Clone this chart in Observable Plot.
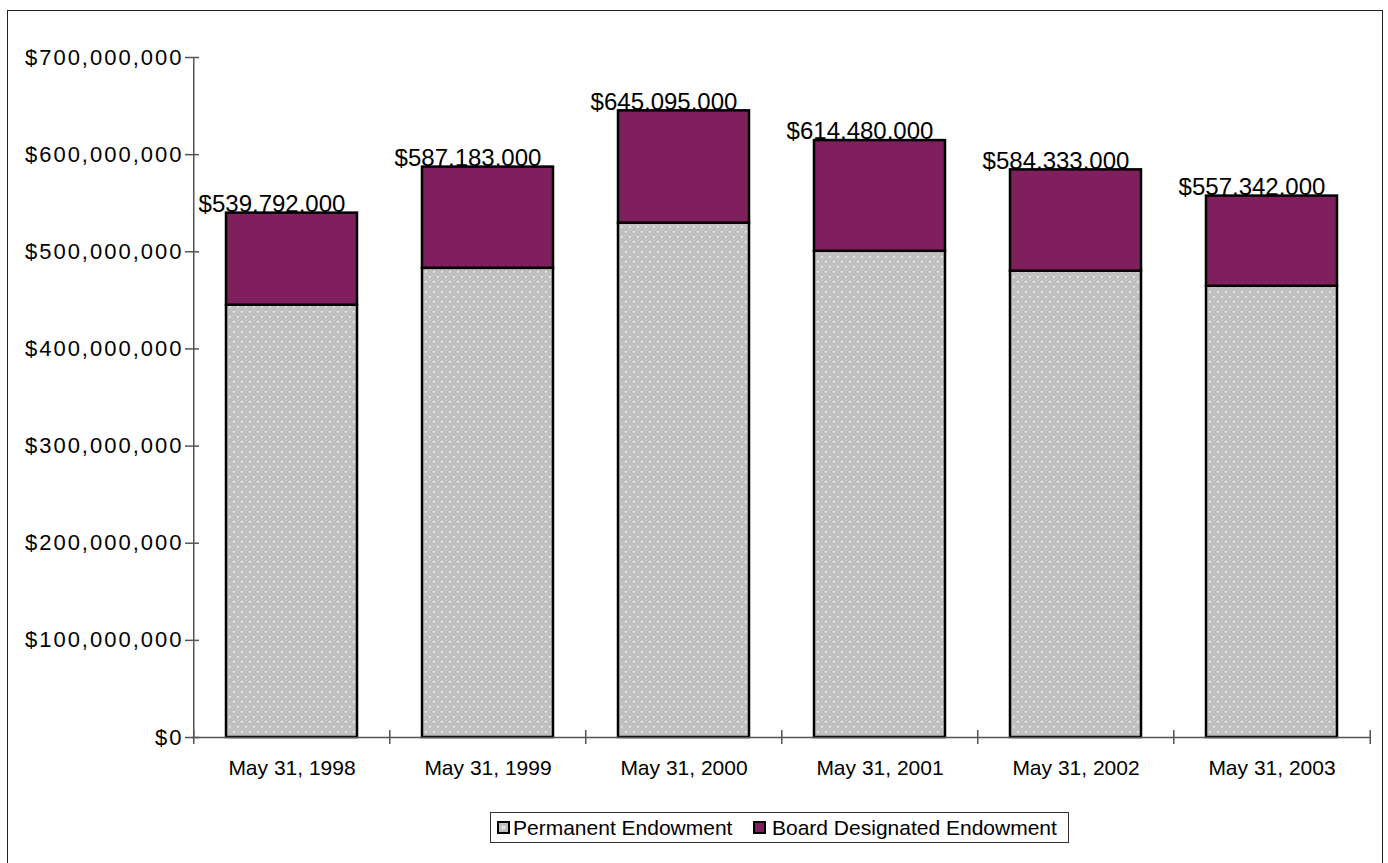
<!DOCTYPE html>
<html>
<head>
<meta charset="utf-8">
<script src="https://cdn.jsdelivr.net/npm/d3@7"></script>
<script src="https://cdn.jsdelivr.net/npm/@observablehq/plot@0.6"></script>
<style>
  html, body { margin: 0; padding: 0; background: #fff; }
  body { width: 1388px; height: 863px; position: relative; overflow: hidden; font-family: "Liberation Sans", Arial, sans-serif; }
  #chart { position: absolute; left: 0; top: 0; }
  #frame { position: absolute; left: 7px; top: 10px; width: 1376px; height: 854px; border: 1.5px solid #222; box-sizing: border-box; pointer-events: none; }
  #legend { position: absolute; left: 490px; top: 812px; width: 579px; height: 31px; border: 1px solid #333; box-sizing: border-box; font-size: 21px; color: #000; }
  #legend .sw { position: absolute; top: 8px; width: 13px; height: 13px; border: 2px solid #000; box-sizing: border-box; }
  #legend .lb { position: absolute; top: 3px; line-height: 24px; white-space: nowrap; }
  #chart svg g[aria-label="y-axis tick label"] text { letter-spacing: 2px; }
</style>
</head>
<body>
<div id="chart"></div>
<div id="legend"></div>
<div id="frame"></div>
<script>
// ---- data ----
const categories = ["May 31, 1998", "May 31, 1999", "May 31, 2000", "May 31, 2001", "May 31, 2002", "May 31, 2003"];
const totals = [539792000, 587183000, 645095000, 614480000, 584333000, 557342000];
const permanent = [445000000, 483000000, 529500000, 500500000, 480000000, 464500000];
const board = [94792000, 104183000, 115595000, 113980000, 104333000, 92842000];
const yTicks = [0, 100000000, 200000000, 300000000, 400000000, 500000000, 600000000, 700000000];
const seriesNames = ["Permanent Endowment", "Board Designated Endowment"];

const purple = "#7f1f5e";
const rows = categories.map((c, i) => ({
  category: c,
  total: totals[i],
  permanent: permanent[i],
  top: permanent[i] + board[i]
}));

const W = 1388, H = 800, mL = 192, mR = 17, mT = 57, mB = 63;
const step = (W - mL - mR) / categories.length;
const fmt = d3.format("$,.0f");

const svg = Plot.plot({
  width: W,
  height: H,
  marginLeft: mL,
  marginRight: mR,
  marginTop: mT,
  marginBottom: mB,
  style: { fontFamily: "'Liberation Sans', Arial, sans-serif", background: "transparent", color: "#000" },
  x: { domain: categories, paddingInner: 0.33, paddingOuter: 0.165, label: null },
  y: { domain: [0, 700000000], label: null },
  marks: [
    Plot.text(rows, { x: "category", y: "total", text: d => fmt(d.total), dy: -9, dx: -20, fontSize: 24, fill: "#000" }),
    Plot.barY(rows, { x: "category", y1: 0, y2: "permanent", fill: "url(#dots)", stroke: "#000", strokeWidth: 2.5 }),
    Plot.barY(rows, { x: "category", y1: "permanent", y2: "top", fill: purple, stroke: "#000", strokeWidth: 2.5 }),
    Plot.ruleY([0], { stroke: "#555", strokeWidth: 1.5 }),
    Plot.ruleX([categories[0]], { x: d => d, y1: 0, y2: 700000000, dx: -step / 2, stroke: "#555", strokeWidth: 1.5 }),
    Plot.ruleX(categories, { x: d => d, y1: 0, y2: 0, insetTop: -7, insetBottom: -7, dx: -step / 2, stroke: "#555", strokeWidth: 1.5 }),
    Plot.ruleX([categories[categories.length - 1]], { x: d => d, y1: 0, y2: 0, insetTop: -7, insetBottom: -7, dx: step / 2, stroke: "#555", strokeWidth: 1.5 }),
    Plot.axisY(yTicks, { tickSize: 14, dx: 7, tickPadding: 2, tickFormat: d => fmt(d), fontSize: 22, stroke: "#555", strokeWidth: 1.5 }),
    Plot.axisX({ tickSize: 0, tickPadding: 23, fontSize: 21 })
  ]
});

// dotted pattern for the permanent endowment
const defs = d3.select(svg).insert("defs", ":first-child");
const pat = defs.append("pattern").attr("id", "dots").attr("patternUnits", "userSpaceOnUse")
  .attr("width", 8).attr("height", 10);
pat.append("rect").attr("width", 8).attr("height", 10).attr("fill", "#c0c0c0");
pat.append("rect").attr("x", 1).attr("y", 1).attr("width", 1.6).attr("height", 1.6).attr("fill", "#f6f6f6");
pat.append("rect").attr("x", 5).attr("y", 6).attr("width", 1.6).attr("height", 1.6).attr("fill", "#f6f6f6");

document.getElementById("chart").appendChild(svg);

// legend
const legend = d3.select("#legend");
const swatchX = [6, 262];
const labelX = [22, 281];
seriesNames.forEach((name, i) => {
  const sw = legend.append("div").attr("class", "sw").style("left", swatchX[i] + "px");
  if (i === 0) sw.style("background", "#c0c0c0").style("box-shadow", "inset 0 0 0 3px #c0c0c0, inset 0 0 0 4px #eee");
  else sw.style("background", purple);
  legend.append("div").attr("class", "lb").style("left", labelX[i] + "px").text(name);
});
</script>
</body>
</html>
